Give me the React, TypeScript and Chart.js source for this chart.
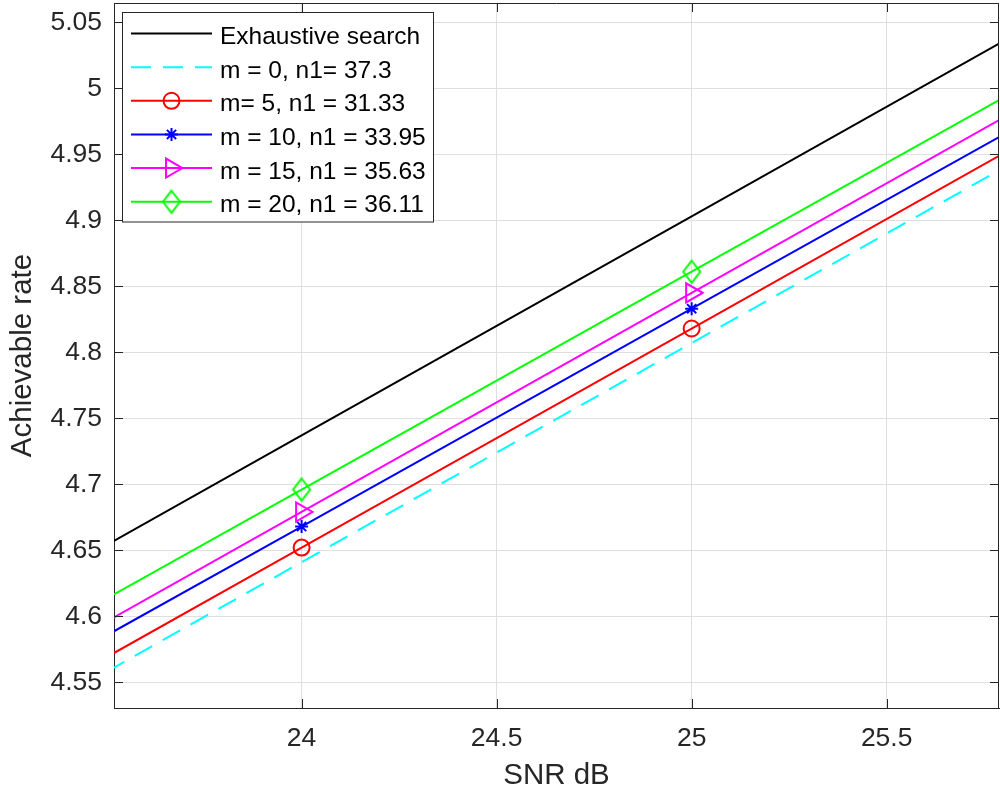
import React, { useEffect, useRef } from "react";
import { Chart, registerables } from "chart.js";

Chart.register(...registerables);

const FONT = '"Liberation Sans", Arial, Helvetica, sans-serif';
const AXIS = "#262626";
const GRID = "#dfdfdf";

// SNR (dB) sample points
const snrDb = [23, 24, 25, 26];
// Achievable rate per scheme
const exhaustiveSearch = [4.571, 4.737, 4.903, 5.069];
const rateM0 = [4.475, 4.641, 4.807, 4.973];
const rateM5 = [4.486, 4.652, 4.818, 4.984];
const rateM10 = [4.503, 4.668, 4.833, 4.998];
const rateM15 = [4.513, 4.679, 4.845, 5.011];
const rateM20 = [4.531, 4.696, 4.861, 5.026];

const seriesLabels = [
  "Exhaustive search",
  "m = 0, n1= 37.3",
  "m= 5, n1 = 31.33",
  "m = 10, n1 = 33.95",
  "m = 15, n1 = 35.63",
  "m = 20, n1 = 36.11",
];
const seriesColors = ["#000000", "#00ffff", "#ff0000", "#0000ff", "#ff00ff", "#00ff00"];
const seriesMarkers = ["none", "none", "circle", "star", "triangle", "diamond"];

const xTickValues = [24, 24.5, 25, 25.5];
const yTickValues = [4.55, 4.6, 4.65, 4.7, 4.75, 4.8, 4.85, 4.9, 4.95, 5, 5.05];
const xRange = [23.519, 25.788];
const yRange = [4.5305, 5.0646];

const fmt = (v: number) => String(Number(Number(v).toFixed(2)));

function makeDiamond(color: string) {
  const c = document.createElement("canvas");
  c.width = 24;
  c.height = 30;
  const g = c.getContext("2d")!;
  g.strokeStyle = color;
  g.lineWidth = 2;
  g.beginPath();
  g.moveTo(12, 4);
  g.lineTo(20.5, 15);
  g.lineTo(12, 26);
  g.lineTo(3.5, 15);
  g.closePath();
  g.stroke();
  return c;
}

function drawMarker(ctx: CanvasRenderingContext2D, kind: string, x: number, y: number, color: string, diamond: HTMLCanvasElement) {
  if (kind === "none") return;
  ctx.save();
  ctx.setLineDash([]);
  ctx.strokeStyle = color;
  ctx.lineWidth = 2;
  if (kind === "diamond") {
    ctx.drawImage(diamond, x - diamond.width / 2, y - diamond.height / 2);
    ctx.restore();
    return;
  }
  ctx.beginPath();
  if (kind === "circle") {
    ctx.arc(x, y, 8, 0, Math.PI * 2);
  } else if (kind === "star") {
    const r = 6.5;
    const d = r * Math.SQRT1_2;
    ctx.moveTo(x - r, y); ctx.lineTo(x + r, y);
    ctx.moveTo(x, y - r); ctx.lineTo(x, y + r);
    ctx.moveTo(x - d, y - d); ctx.lineTo(x + d, y + d);
    ctx.moveTo(x - d, y + d); ctx.lineTo(x + d, y - d);
  } else if (kind === "triangle") {
    const r = 11;
    const h = (r * Math.sqrt(3)) / 2;
    ctx.moveTo(x + r, y);
    ctx.lineTo(x - r / 2, y - h);
    ctx.lineTo(x - r / 2, y + h);
    ctx.closePath();
  }
  ctx.stroke();
  ctx.restore();
}

const noPad = (s: any) => {
  s.paddingTop = 0;
  s.paddingBottom = 0;
  s.paddingLeft = 0;
  s.paddingRight = 0;
};

export default function App() {
  const ref = useRef<HTMLCanvasElement | null>(null);

  useEffect(() => {
    if (!ref.current) return;
    const diamond = makeDiamond(seriesColors[5]);
    const allSeries = [exhaustiveSearch, rateM0, rateM5, rateM10, rateM15, rateM20];

    const datasets = allSeries.map((vals, i) => {
      const kind = seriesMarkers[i];
      let pointStyle: any = "circle";
      let pointRadius = 0;
      let rotation = 0;
      if (kind === "circle") { pointStyle = "circle"; pointRadius = 8; }
      if (kind === "star") { pointStyle = "star"; pointRadius = 6.5; }
      if (kind === "triangle") { pointStyle = "triangle"; pointRadius = 11; rotation = 90; }
      if (kind === "diamond") { pointStyle = diamond; pointRadius = 10; }
      return {
        label: seriesLabels[i],
        data: snrDb.map((x, j) => ({ x, y: vals[j] })),
        borderColor: seriesColors[i],
        backgroundColor: seriesColors[i],
        borderWidth: 2,
        borderDash: i === 1 ? [20, 12] : [],
        pointStyle,
        pointRadius,
        pointRotation: rotation,
        pointBorderWidth: 2,
        pointBorderColor: seriesColors[i],
        pointBackgroundColor: "rgba(0,0,0,0)",
        pointHoverRadius: pointRadius,
        tension: 0,
        fill: false,
        order: -i,
      };
    });

    const framePlugin = {
      id: "frameAndLegend",
      afterDraw(chart: any) {
        const { ctx, chartArea: a, scales } = chart;
        const xs = scales.x;
        const ys = scales.y;
        ctx.save();
        ctx.strokeStyle = AXIS;
        ctx.lineWidth = 1;
        ctx.setLineDash([]);
        ctx.beginPath();
        ctx.moveTo(a.left, a.top + 0.5);
        ctx.lineTo(a.right, a.top + 0.5);
        ctx.moveTo(a.right - 0.5, a.top);
        ctx.lineTo(a.right - 0.5, a.bottom);
        const tl = 9;
        xTickValues.forEach((v) => {
          const px = Math.round(xs.getPixelForValue(v)) + 0.5;
          ctx.moveTo(px, a.bottom);
          ctx.lineTo(px, a.bottom - tl);
          ctx.moveTo(px, a.top);
          ctx.lineTo(px, a.top + tl);
        });
        yTickValues.forEach((v) => {
          const py = Math.round(ys.getPixelForValue(v)) + 0.5;
          ctx.moveTo(a.left, py);
          ctx.lineTo(a.left + tl, py);
          ctx.moveTo(a.right, py);
          ctx.lineTo(a.right - tl, py);
        });
        ctx.stroke();

        // legend
        const bx = 122.5, by = 12.5, bw = 311, bh = 209.5;
        ctx.fillStyle = "#ffffff";
        ctx.fillRect(bx, by, bw, bh);
        ctx.strokeStyle = AXIS;
        ctx.lineWidth = 1;
        ctx.strokeRect(bx, by, bw, bh);
        ctx.font = `24.5px ${FONT}`;
        ctx.textBaseline = "alphabetic";
        ctx.textAlign = "left";
        seriesLabels.forEach((label, i) => {
          const y = 33.5 + i * 33.65;
          ctx.save();
          ctx.strokeStyle = seriesColors[i];
          ctx.lineWidth = 2;
          ctx.setLineDash(i === 1 ? [20, 12] : []);
          ctx.beginPath();
          ctx.moveTo(131, y);
          ctx.lineTo(212, y);
          ctx.stroke();
          ctx.restore();
          drawMarker(ctx, seriesMarkers[i], 171.5, y, seriesColors[i], diamond);
          ctx.fillStyle = "#000000";
          ctx.fillText(label, 220, y + 10.5);
        });
        ctx.restore();
      },
    };

    const chart = new Chart(ref.current, {
      type: "line",
      data: { datasets: datasets as any },
      options: {
        animation: false,
        responsive: false,
        events: [],
        layout: { autoPadding: false, padding: { left: 0, top: 3, right: 1, bottom: 0 } },
        plugins: { legend: { display: false }, tooltip: { enabled: false } },
        scales: {
          x: {
            type: "linear",
            min: xRange[0],
            max: xRange[1],
            afterBuildTicks: (s: any) => {
              s.ticks = xTickValues.map((v) => ({ value: v }));
            },
            afterFit: (s: any) => {
              s.height = 86;
              noPad(s);
            },
            grid: { color: GRID, lineWidth: 1, drawTicks: false },
            border: { color: AXIS, width: 1 },
            ticks: {
              padding: 15,
              color: AXIS,
              maxRotation: 0,
              autoSkip: false,
              font: { family: FONT, size: 26.5 },
              callback: (v: any) => fmt(v),
            },
            title: {
              display: true,
              text: "SNR dB",
              color: AXIS,
              font: { family: FONT, size: 29.5 },
              padding: { top: 0, bottom: 0 },
            },
          },
          y: {
            type: "linear",
            min: yRange[0],
            max: yRange[1],
            afterBuildTicks: (s: any) => {
              s.ticks = yTickValues.map((v) => ({ value: v }));
            },
            afterFit: (s: any) => {
              s.width = 114;
              noPad(s);
            },
            grid: { color: GRID, lineWidth: 1, drawTicks: false },
            border: { color: AXIS, width: 1 },
            ticks: {
              padding: 12,
              color: AXIS,
              autoSkip: false,
              font: { family: FONT, size: 26.5 },
              callback: (v: any) => fmt(v),
            },
            title: {
              display: true,
              text: "Achievable rate",
              color: AXIS,
              font: { family: FONT, size: 29.5 },
              padding: { top: 5.5, bottom: 0 },
            },
          },
        },
      },
      plugins: [framePlugin],
    });
    return () => chart.destroy();
  }, []);

  return (
    <div style={{ position: "absolute", left: 0, top: 0, width: 1000, height: 794, background: "#fff" }}>
      <canvas ref={ref} width={1000} height={794} />
    </div>
  );
}
